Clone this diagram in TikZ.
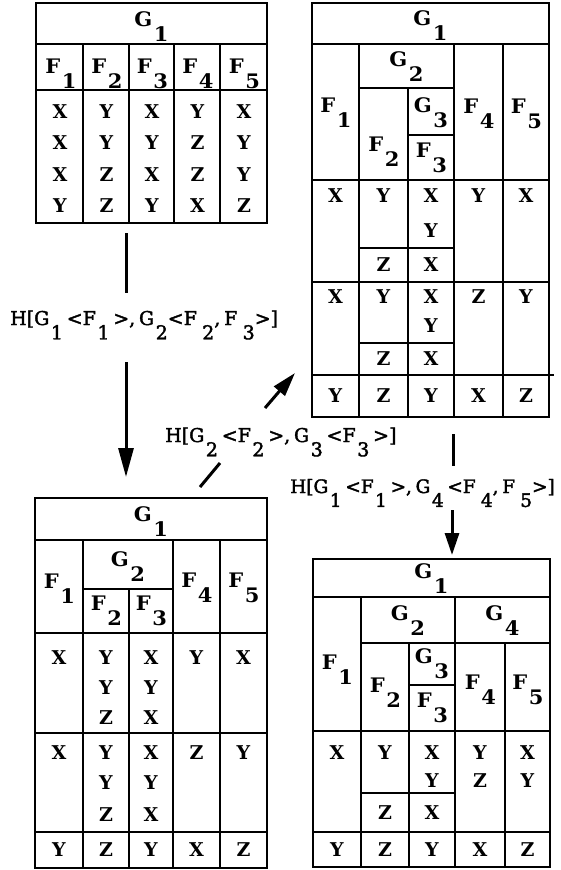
\documentclass[tikz,border=0pt]{standalone}
\usepackage{fontspec}
\setmainfont{DejaVu Serif}
\newfontfamily\cellfont{DejaVu Serif}
\newfontfamily\hdrfont{DejaVu Serif}[FakeStretch=1.05]
\newfontfamily\labfont{DejaVu Serif}[FakeBold=2]
\usetikzlibrary{arrows.meta}
\newcommand{\sbd}[1]{\hspace{0.08em}\raisebox{-0.75em}{#1}}
\newcommand{\lsp}{\hspace{0.2em}}
\tikzset{
  tab/.style={line width=2.6pt},
  conn/.style={line width=3pt},
  cell/.style={inner sep=0pt, font=\cellfont\bfseries\fontsize{19}{19}\selectfont},
  hdr/.style={inner sep=0pt, font=\hdrfont\bfseries\fontsize{20}{20}\selectfont},
  lab/.style={inner sep=0pt, anchor=base west, font=\labfont\fontsize{19}{19}\selectfont},
}
\begin{document}
\begin{tikzpicture}[x=1pt,y=-1pt]
\useasboundingbox (0,0) rectangle (560,870);

% ---------- Table 1 ----------
\draw[tab] (36,3) rectangle (267,223);
\draw[tab] (36,44) -- (267,44) (36,90) -- (267,90);
\foreach \x in {83,129,174,220} \draw[tab] (\x,44) -- (\x,223);
\node[hdr] (t1g1) at (151.5,27) {G\sbd{1}};
\foreach \n/\x in {1/61,2/107,3/152.5,4/198,5/244.5}
  \node[hdr] (t1f\n) at (\x,74) {F\sbd{\n}};
\foreach \r/\y/\a/\b/\c/\d/\e in {1/112/X/Y/X/Y/X,2/143/X/Y/Y/Z/Y,3/175/X/Z/X/Z/Y,4/206/Y/Z/Y/X/Z}{
  \node[cell] (t1r\r-1) at (60,\y) {\a};
  \node[cell] (t1r\r-2) at (106.5,\y) {\b};
  \node[cell] (t1r\r-3) at (152,\y) {\c};
  \node[cell] (t1r\r-4) at (197.5,\y) {\d};
  \node[cell] (t1r\r-5) at (244,\y) {\e};
}

% ---------- Table 2 ----------
\draw[tab] (312,3) rectangle (549,417);
\draw[tab] (312,44) -- (549,44);
\draw[tab] (359,44) -- (359,417) (454,44) -- (454,417) (503,44) -- (503,417);
\draw[tab] (359,88) -- (454,88);
\draw[tab] (408,88) -- (408,417);
\draw[tab] (408,135) -- (454,135);
\draw[tab] (312,180) -- (549,180) (312,282) -- (549,282) (312,375) -- (554,375);
\draw[tab] (359,248) -- (454,248) (359,343) -- (454,343);
\node[hdr] (t2g1) at (430.5,26) {G\sbd{1}};
\node[hdr] (t2g2) at (406.5,67) {G\sbd{2}};
\node[hdr] (t2f1) at (336,113) {F\sbd{1}};
\node[hdr] (t2f2) at (384,152) {F\sbd{2}};
\node[hdr] (t2g3) at (431,113) {G\sbd{3}};
\node[hdr] (t2f3) at (431.5,158) {F\sbd{3}};
\node[hdr] (t2f4) at (479,114) {F\sbd{4}};
\node[hdr] (t2f5) at (526.5,114) {F\sbd{5}};
\foreach \r/\y/\a/\b/\c/\d/\e in {1/196/X/Y/X/Y/X,2/297/X/Y/X/Z/Y,3/396/Y/Z/Y/X/Z}{
  \node[cell] (t2r\r-1) at (335.5,\y) {\a};
  \node[cell] (t2r\r-2) at (383.5,\y) {\b};
  \node[cell] (t2r\r-3) at (431,\y) {\c};
  \node[cell] (t2r\r-4) at (478.5,\y) {\d};
  \node[cell] (t2r\r-5) at (526,\y) {\e};
}
\node[cell] (t2b1y) at (431,231) {Y};
\node[cell] (t2b1z) at (383.5,265) {Z};
\node[cell] (t2b1x) at (431,265) {X};
\node[cell] (t2b2y) at (431,326) {Y};
\node[cell] (t2b2z) at (383.5,359) {Z};
\node[cell] (t2b2x) at (431,359) {X};

% ---------- Table 3 ----------
\draw[tab] (35,498) rectangle (267,868);
\draw[tab] (35,540) -- (267,540);
\draw[tab] (83,540) -- (83,868) (173,540) -- (173,868) (220,540) -- (220,868);
\draw[tab] (83,589) -- (173,589);
\draw[tab] (129,589) -- (129,868);
\draw[tab] (35,633) -- (267,633) (35,733) -- (267,733) (35,832) -- (267,832);
\node[hdr] (t3g1) at (151,522) {G\sbd{1}};
\node[hdr] (t3g2) at (128,567) {G\sbd{2}};
\node[hdr] (t3f1) at (59.5,589) {F\sbd{1}};
\node[hdr] (t3f2) at (106.5,611) {F\sbd{2}};
\node[hdr] (t3f3) at (151.5,611) {F\sbd{3}};
\node[hdr] (t3f4) at (197,588) {F\sbd{4}};
\node[hdr] (t3f5) at (244,588) {F\sbd{5}};
\foreach \r/\y/\a/\b/\c/\d/\e in {1/658/X/Y/X/Y/X,2/753/X/Y/X/Z/Y,3/850/Y/Z/Y/X/Z}{
  \node[cell] (t3r\r-1) at (59,\y) {\a};
  \node[cell] (t3r\r-2) at (106,\y) {\b};
  \node[cell] (t3r\r-3) at (151,\y) {\c};
  \node[cell] (t3r\r-4) at (196.5,\y) {\d};
  \node[cell] (t3r\r-5) at (243.5,\y) {\e};
}
\foreach \k/\y/\b/\c in {a/688/Y/Y,b/718/Z/X,c/783/Y/Y,d/815/Z/X}{
  \node[cell] (t3\k-2) at (106,\y) {\b};
  \node[cell] (t3\k-3) at (151,\y) {\c};
}

% ---------- Table 4 ----------
\draw[tab] (313,559) rectangle (550,867);
\draw[tab] (313,597) -- (550,597);
\draw[tab] (361,597) -- (361,867) (455,597) -- (455,867);
\draw[tab] (361,643) -- (550,643);
\draw[tab] (409,643) -- (409,867) (505,643) -- (505,867);
\draw[tab] (409,685) -- (455,685);
\draw[tab] (313,731) -- (550,731) (313,832) -- (550,832);
\draw[tab] (361,793) -- (455,793);
\node[hdr] (t4g1) at (431.5,579) {G\sbd{1}};
\node[hdr] (t4g2) at (408,621) {G\sbd{2}};
\node[hdr] (t4g4) at (502.5,621) {G\sbd{4}};
\node[hdr] (t4f1) at (337.5,670) {F\sbd{1}};
\node[hdr] (t4f2) at (385.5,693) {F\sbd{2}};
\node[hdr] (t4g3) at (432,664) {G\sbd{3}};
\node[hdr] (t4f3) at (432.5,708) {F\sbd{3}};
\node[hdr] (t4f4) at (480.5,690) {F\sbd{4}};
\node[hdr] (t4f5) at (528,690) {F\sbd{5}};
\foreach \r/\y/\a/\b/\c/\d/\e in {1/753/X/Y/X/Y/X,2/850/Y/Z/Y/X/Z}{
  \node[cell] (t4r\r-1) at (337,\y) {\a};
  \node[cell] (t4r\r-2) at (385,\y) {\b};
  \node[cell] (t4r\r-3) at (432,\y) {\c};
  \node[cell] (t4r\r-4) at (480,\y) {\d};
  \node[cell] (t4r\r-5) at (527.5,\y) {\e};
}
\node[cell] (t4b1y) at (432,781) {Y};
\node[cell] (t4b1z) at (480,781) {Z};
\node[cell] (t4b1w) at (527.5,781) {Y};
\node[cell] (t4b2z) at (385,813) {Z};
\node[cell] (t4b2x) at (432,813) {X};

% ---------- Labels ----------
\node[lab] (L1) at (10,325) {H[G\sbd{1}\lsp<F\sbd{1}\lsp>,\lsp G\sbd{2}<F\lsp\sbd{2},\lsp F\lsp\sbd{3}>]};
\node[lab] (L2) at (165,442) {H[G\sbd{2}\lsp<F\sbd{2}\lsp>,\lsp G\sbd{3}\lsp<F\sbd{3}\lsp>]};
\node[lab, font=\labfont\fontsize{18.5}{18.5}\selectfont] (L3) at (290,493) {H[G\sbd{1}\lsp<F\sbd{1}\lsp>,\lsp G\sbd{4}\lsp<F\lsp\sbd{4},\lsp F\lsp\sbd{5}>]};

% ---------- Connectors ----------
\coordinate (a1a) at (126,233);
\coordinate (a1b) at (126,293);
\coordinate (a1c) at (126,362);
\coordinate (a1d) at (126,477);
\draw[conn] (a1a) -- (a1b);
\draw[conn,-{Triangle[length=29pt,width=15pt]}] (a1c) -- (a1d);
\coordinate (a2a) at (200,487);
\coordinate (a2b) at (220,463);
\coordinate (a2c) at (265,408);
\coordinate (a2d) at (295,373);
\draw[conn] (a2a) -- (a2b);
\draw[conn,-{Triangle[length=24pt,width=14pt]}] (a2c) -- (a2d);
\coordinate (a3a) at (453,434);
\coordinate (a3b) at (453,466);
\coordinate (a3c) at (452,510);
\coordinate (a3d) at (452,555);
\draw[conn] (a3a) -- (a3b);
\draw[conn,-{Triangle[length=22pt,width=14pt]}] (a3c) -- (a3d);
\end{tikzpicture}
\end{document}
